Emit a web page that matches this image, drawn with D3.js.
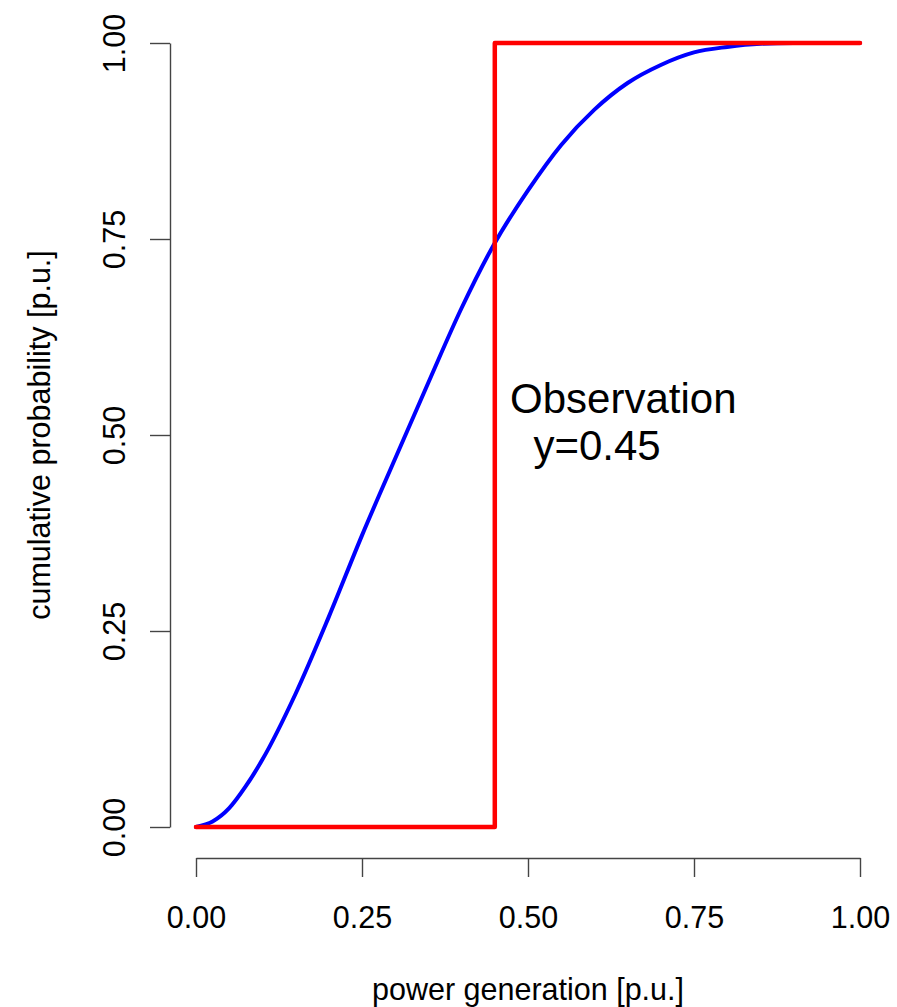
<!DOCTYPE html>
<html>
<head>
<meta charset="utf-8">
<script src="https://cdn.jsdelivr.net/npm/d3@7"></script>
<style>
  body { margin: 0; background: #fff; }
  text { font-family: "Liberation Sans", Arial, Helvetica, sans-serif; fill: #000; }
</style>
</head>
<body>
<div id="chart"></div>
<script>
// predictive CDF of power generation, sampled along x
const cdfX = [0.00, 0.025, 0.05, 0.075, 0.10, 0.15, 0.20, 0.25, 0.30, 0.35, 0.40, 0.45,
              0.50, 0.55, 0.60, 0.65, 0.70, 0.75, 0.80, 0.85, 0.90, 0.95, 1.00];
const cdfY = [0.000, 0.007, 0.024, 0.052, 0.086, 0.170, 0.268, 0.372, 0.470, 0.567, 0.662, 0.745,
              0.812, 0.870, 0.915, 0.949, 0.972, 0.988, 0.995, 0.999, 1.000, 1.000, 1.000];

// observed value -> step CDF
const observation = 0.45;
const stepX = [0, observation, observation, 1];
const stepY = [0, 0, 1, 1];

const xTicks = [0, 0.25, 0.5, 0.75, 1];
const yTicks = [0, 0.25, 0.5, 0.75, 1];

const svgWidth = 897;
const svgHeight = 1007;

const svg = d3.select("#chart")
    .append("svg")
    .attr("width", svgWidth)
    .attr("height", svgHeight);

const xScale = d3.scaleLinear().domain([0, 1]).range([196, 860]);
const yScale = d3.scaleLinear().domain([0, 1]).range([827, 43]);

const fontSize = 30.5;
const axisColor = "#444";

// x axis (R style: detached below the plot)
const xAxis = svg.append("g")
    .attr("transform", "translate(0,858)")
    .call(d3.axisBottom(xScale).tickValues(xTicks).tickSize(19).tickSizeOuter(0).tickPadding(0)
        .tickFormat(d3.format(".2f")));
xAxis.select(".domain").attr("stroke", axisColor).attr("stroke-width", 1.4);
xAxis.selectAll(".tick line").attr("stroke", axisColor).attr("stroke-width", 1.4);
xAxis.selectAll(".tick text")
    .attr("y", 70)
    .attr("dy", 0)
    .style("font-size", fontSize + "px")
    .attr("fill", "#000");

// y axis, labels rotated parallel to the axis
const yAxis = svg.append("g")
    .attr("transform", "translate(170,0)")
    .call(d3.axisLeft(yScale).tickValues(yTicks).tickSize(20).tickSizeOuter(0)
        .tickFormat(d3.format(".2f")));
yAxis.select(".domain").attr("stroke", axisColor).attr("stroke-width", 1.4);
yAxis.selectAll(".tick line").attr("stroke", axisColor).attr("stroke-width", 1.4);
yAxis.selectAll(".tick text")
    .attr("x", 0)
    .attr("dy", 0)
    .attr("transform", "translate(-45,0) rotate(-90)")
    .attr("text-anchor", "middle")
    .style("font-size", fontSize + "px")
    .attr("fill", "#000");

// axis titles
svg.append("text")
    .attr("x", xScale(0.5))
    .attr("y", 1000)
    .attr("text-anchor", "middle")
    .style("font-size", fontSize + "px")
    .text("power generation [p.u.]");

svg.append("text")
    .attr("transform", `translate(50,${yScale(0.5)}) rotate(-90)`)
    .attr("text-anchor", "middle")
    .style("font-size", fontSize + "px")
    .text("cumulative probability [p.u.]");

// forecast CDF
const cdfLine = d3.line()
    .x((d, i) => xScale(cdfX[i]))
    .y(d => yScale(d))
    .curve(d3.curveMonotoneX);

svg.append("path")
    .datum(cdfY)
    .attr("d", cdfLine)
    .attr("fill", "none")
    .attr("stroke", "#0000ff")
    .attr("stroke-width", 4)
    .attr("stroke-linecap", "round");

// observation CDF drawn on top
const stepLine = d3.line()
    .x((d, i) => xScale(stepX[i]))
    .y(d => yScale(d));

svg.append("path")
    .datum(stepY)
    .attr("d", stepLine)
    .attr("fill", "none")
    .attr("stroke", "#ff0000")
    .attr("stroke-width", 4.5)
    .attr("stroke-linecap", "round")
    .attr("stroke-linejoin", "round");

// annotation
const note = svg.append("text")
    .attr("x", xScale(0.473))
    .attr("y", yScale(0.5) - 22)
    .style("font-size", "42px");
note.append("tspan").text("Observation");
note.append("tspan")
    .attr("x", xScale(0.473))
    .attr("dx", "0.556em")
    .attr("dy", 47)
    .text("y=" + observation.toFixed(2));
</script>
</body>
</html>
